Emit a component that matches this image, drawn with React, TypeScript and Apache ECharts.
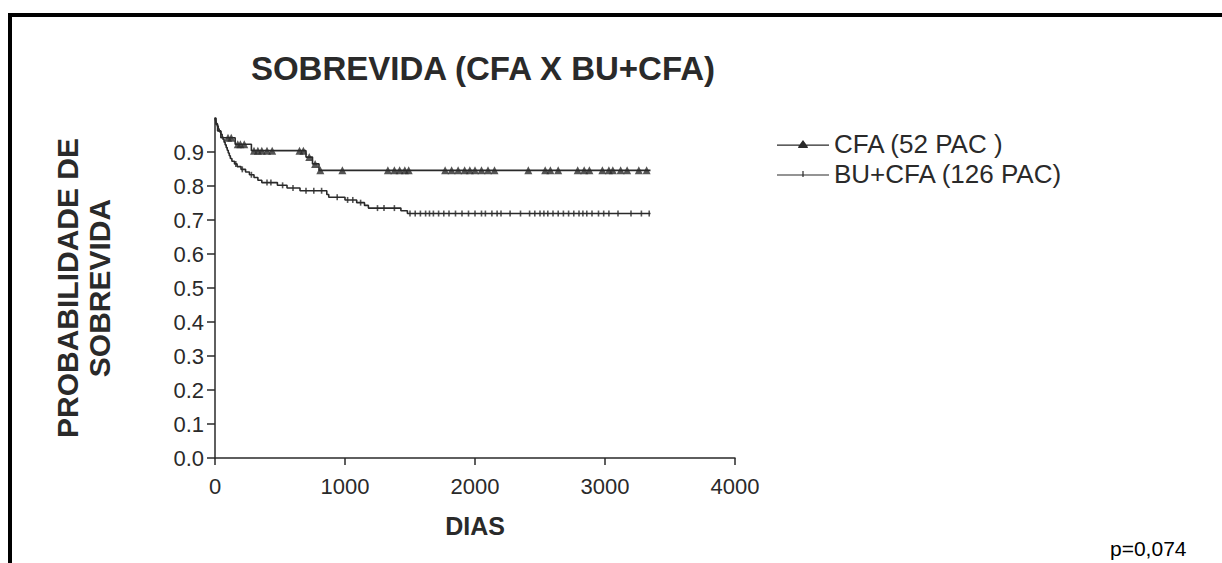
import React, { useEffect, useRef } from 'react';
import * as echarts from 'echarts';

// Kaplan-Meier step points (day, survival probability)
const cfaTimes = [0, 8, 20, 45, 155, 280, 700, 750, 800, 3350];
const cfaSurv = [1.0, 0.981, 0.962, 0.942, 0.923, 0.904, 0.885, 0.865, 0.846, 0.846];
const cfaCensored = [100, 125, 175, 195, 225, 300, 330, 360, 400, 440, 650, 680, 725, 770, 810, 980,
  1330, 1380, 1420, 1460, 1490, 1770, 1820, 1870, 1920, 1960, 2000, 2050, 2100, 2150,
  2410, 2540, 2580, 2640, 2790, 2840, 2880, 2980, 3030, 3060, 3120, 3170, 3260, 3320];

const buTimes = [0, 5, 10, 18, 25, 32, 45, 55, 62, 70, 78, 86, 94, 102, 110, 118, 130, 150, 170, 200,
  235, 265, 300, 330, 360, 480, 554, 654, 860, 875, 1000, 1090, 1150, 1180, 1430, 1480, 3350];
const buSurv = [1.0, 0.992, 0.984, 0.976, 0.968, 0.96, 0.952, 0.944, 0.937, 0.929, 0.921, 0.913, 0.905,
  0.897, 0.889, 0.881, 0.873, 0.865, 0.857, 0.849, 0.841, 0.833, 0.825, 0.817, 0.81, 0.802, 0.794,
  0.786, 0.775, 0.767, 0.759, 0.751, 0.743, 0.735, 0.727, 0.719, 0.719];
const buCensored = [160, 210, 280, 400, 430, 520, 600, 700, 760, 820, 940, 1020, 1060, 1120, 1250, 1300,
  1380, 1500, 1540, 1580, 1620, 1650, 1680, 1720, 1760, 1800, 1850, 1900, 1950, 2000, 2050, 2080,
  2130, 2170, 2200, 2270, 2350, 2420, 2460, 2500, 2530, 2560, 2600, 2640, 2680, 2720, 2760, 2800,
  2830, 2860, 2900, 2950, 2990, 3030, 3100, 3200, 3280, 3340];

const yTicks = [0, 0.1, 0.2, 0.3, 0.4, 0.5, 0.6, 0.7, 0.8, 0.9];
const xTicks = [0, 1000, 2000, 3000, 4000];

const cfaName = 'CFA (52 PAC )';
const buName = 'BU+CFA (126 PAC)';

function stepAt(times: number[], surv: number[], t: number) {
  let s = surv[0];
  for (let i = 0; i < times.length; i++) if (times[i] <= t) s = surv[i];
  return s;
}

const FONT = "'Liberation Sans', Arial, sans-serif";
const INK = '#2a2a2a';

export default function App() {
  const ref = useRef<HTMLDivElement>(null);
  useEffect(() => {
    document.body.style.margin = '0';
    const chart = echarts.init(ref.current!, null, { renderer: 'svg' });
    chart.setOption({
      animation: false,
      backgroundColor: '#fff',
      textStyle: { fontFamily: FONT },
      title: {
        text: 'SOBREVIDA (CFA X BU+CFA)',
        left: 478,
        top: 47,
        textAlign: 'center',
        textStyle: { fontSize: 33, fontWeight: 'bold', color: INK, fontFamily: FONT },
      },
      legend: {
        orient: 'vertical',
        left: 772,
        top: 126,
        itemWidth: 52,
        itemHeight: 8,
        itemGap: 4,
        textStyle: { fontSize: 26, color: INK, fontFamily: FONT },
        data: [
          { name: cfaName, icon: 'path://M0,4.6H22.7L26,0L29.3,4.6H52V5.8H30.2L31,8H21L21.8,5.8H0Z' },
          { name: buName, icon: 'path://M0,3.4H25.4V0H26.6V3.4H52V4.6H26.6V6H25.4V4.6H0Z' },
        ],
      },
      grid: { left: 215, right: 487, top: 118, bottom: 105 },
      xAxis: {
        type: 'value',
        min: 0,
        max: 4000,
        interval: 1000,
        name: 'DIAS',
        nameLocation: 'middle',
        nameGap: 55,
        nameTextStyle: { fontSize: 25, fontWeight: 'bold', color: INK, fontFamily: FONT },
        axisLine: { lineStyle: { color: INK, width: 1.5 } },
        axisTick: { length: 7, lineStyle: { color: INK, width: 1.5 } },
        axisLabel: {
          fontSize: 22,
          color: INK,
          margin: 17,
          customValues: xTicks,
          formatter: (v: number) => String(v),
        },
        splitLine: { show: false },
      },
      yAxis: {
        type: 'value',
        min: 0,
        max: 1,
        interval: 0.1,
        name: 'PROBABILIDADE DE\nSOBREVIDA',
        nameLocation: 'middle',
        nameRotate: 90,
        nameGap: 100,
        nameTextStyle: { fontSize: 30, fontWeight: 'bold', color: INK, fontFamily: FONT, lineHeight: 32 },
        axisLine: { show: true, lineStyle: { color: INK, width: 1.5 } },
        axisTick: { show: true, length: 8, lineStyle: { color: INK, width: 1.5 }, customValues: yTicks },
        axisLabel: {
          fontSize: 22,
          color: INK,
          margin: 11,
          customValues: yTicks,
          formatter: (v: number) => v.toFixed(1),
        },
        splitLine: { show: false },
      },
      series: [
        {
          name: cfaName,
          type: 'line',
          step: 'end',
          showSymbol: false,
          symbol: 'triangle',
          data: cfaTimes.map((t, i) => [t, cfaSurv[i]]),
          lineStyle: { color: INK, width: 1.6 },
          itemStyle: { color: INK },
          z: 3,
        },
        {
          name: buName,
          type: 'line',
          step: 'end',
          showSymbol: false,
          symbol: 'rect',
          data: buTimes.map((t, i) => [t, buSurv[i]]),
          lineStyle: { color: INK, width: 1.6 },
          itemStyle: { color: INK },
          z: 3,
        },
        {
          name: 'cfa-censored',
          type: 'scatter',
          symbol: 'triangle',
          symbolSize: 8,
          silent: true,
          data: cfaCensored.map((t) => [t, stepAt(cfaTimes, cfaSurv, t)]),
          itemStyle: { color: INK },
          z: 4,
        },
        {
          name: 'bu-censored',
          type: 'scatter',
          symbol: 'rect',
          symbolSize: [1.6, 6],
          silent: true,
          data: buCensored.map((t) => [t, stepAt(buTimes, buSurv, t)]),
          itemStyle: { color: INK },
          z: 4,
        },
      ],
      graphic: [
        { type: 'rect', shape: { x: 8, y: 13, width: 1214, height: 4 }, style: { fill: '#000' } },
        { type: 'rect', shape: { x: 8, y: 13, width: 4, height: 550 }, style: { fill: '#000' } },
        {
          type: 'text',
          x: 1110,
          y: 538,
          style: { text: 'p=0,074', font: `21px ${FONT}`, fill: '#000' },
        },
      ],
    });
    return () => chart.dispose();
  }, []);
  return <div ref={ref} style={{ width: 1222, height: 563 }} />;
}
